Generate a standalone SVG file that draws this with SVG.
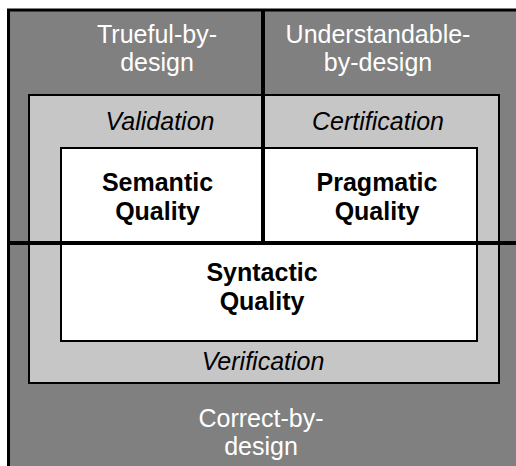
<svg xmlns="http://www.w3.org/2000/svg" width="516" height="466" viewBox="0 0 516 466">
  <style>
    text { font-family: "Liberation Sans", Arial, Helvetica, sans-serif; font-size: 25px; text-anchor: middle; }
    .outer { fill: #808080; stroke: #000; stroke-width: 3; }
    .middle { fill: #c6c6c6; stroke: #000; stroke-width: 2; }
    .inner { fill: #fff; stroke: #000; stroke-width: 2; }
    .white { fill: #fff; }
    .ital { font-style: italic; fill: #000; }
    .bold { font-weight: bold; fill: #000; }
    .divider { stroke: #000; stroke-width: 4; fill: none; }
  </style>
  <g id="outer-region">
    <rect class="outer" x="8.5" y="10" width="520" height="470"/>
    <text class="white" x="157" y="43">Trueful-by-</text>
    <text class="white" x="157" y="71">design</text>
    <text class="white" x="378" y="43">Understandable-</text>
    <text class="white" x="378" y="71">by-design</text>
    <text class="white" x="261" y="427">Correct-by-</text>
    <text class="white" x="261" y="455">design</text>
  </g>
  <g id="middle-region">
    <rect class="middle" x="29" y="95" width="470" height="288"/>
    <text class="ital" x="160" y="130">Validation</text>
    <text class="ital" x="378" y="130">Certification</text>
    <text class="ital" x="263" y="370">Verification</text>
  </g>
  <g id="inner-region">
    <rect class="inner" x="61" y="148" width="416" height="193"/>
    <text class="bold" x="157.5" y="191">Semantic</text>
    <text class="bold" x="157.5" y="220">Quality</text>
    <text class="bold" x="377" y="191">Pragmatic</text>
    <text class="bold" x="377" y="220">Quality</text>
    <text class="bold" x="262" y="281">Syntactic</text>
    <text class="bold" x="262" y="310">Quality</text>
  </g>
  <g id="dividers">
    <line class="divider" x1="263" y1="9" x2="263" y2="243"/>
    <line class="divider" x1="8" y1="243" x2="516" y2="243"/>
  </g>
</svg>
